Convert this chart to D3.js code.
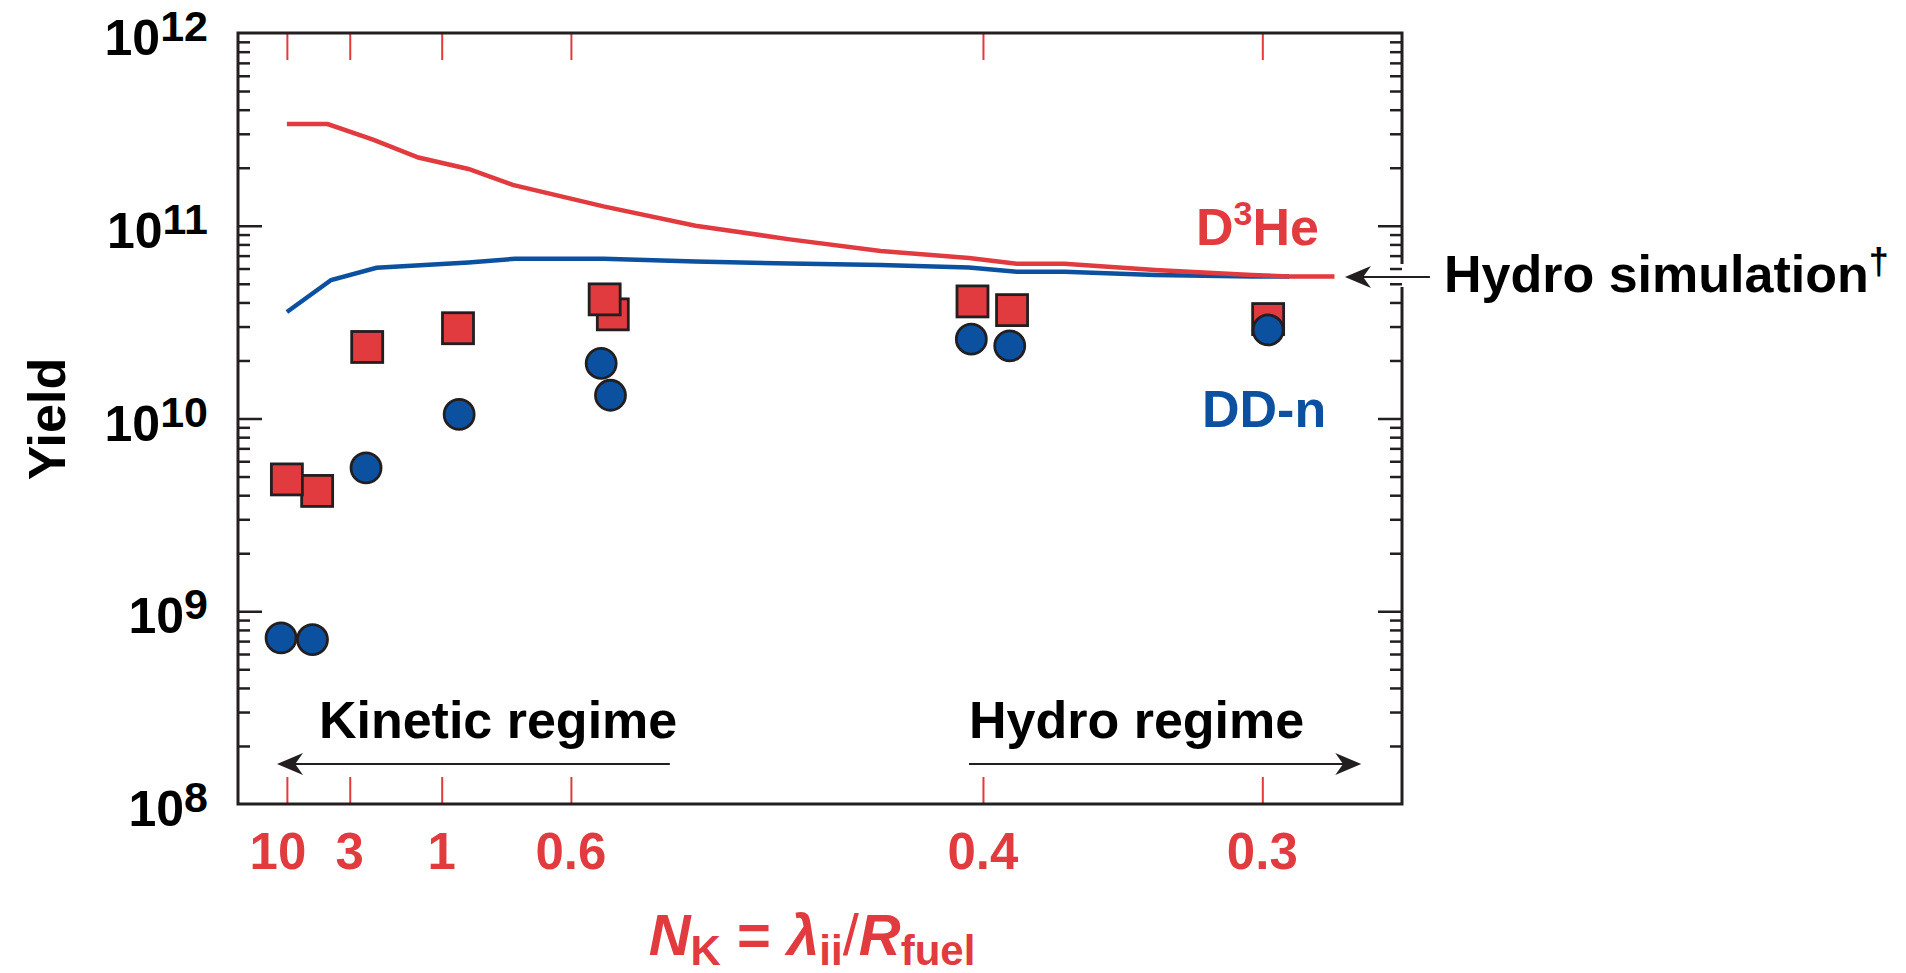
<!DOCTYPE html>
<html>
<head>
<meta charset="utf-8">
<script src="https://cdn.jsdelivr.net/npm/d3@7"></script>
<style>
  body { margin: 0; background: #fff; }
  text { font-family: "Liberation Sans", Arial, Helvetica, sans-serif; font-weight: bold; }
</style>
</head>
<body>
<script>

// position along the shot axis (arbitrary units, 0..100 across the frame)
const nkTickPos    = [4.2, 9.6, 17.5, 28.6, 64.0, 88.0];
const nkTickLabels = ["10", "3", "1", "0.6", "0.4", "0.3"];

// hydro simulation curves
const simD3HeX = [4.2, 7.7, 11.6, 15.5, 19.8, 23.6, 31.4, 39.3, 47.4, 55.2, 62.8, 66.9, 71.0, 78.8, 87.1, 90.3, 94.2];
const simD3He  = [3.37e11, 3.37e11, 2.8e11, 2.26e11, 1.97e11, 1.63e11, 1.26e11, 1.0e11, 8.5e10, 7.4e10, 6.8e10, 6.35e10, 6.35e10, 5.9e10, 5.55e10, 5.45e10, 5.45e10];
const simDDnX  = [4.2, 8.0, 11.9, 19.8, 23.8, 31.4, 39.3, 47.4, 55.2, 62.8, 66.9, 71.0, 78.8, 87.1, 90.3];
const simDDn   = [3.57e10, 5.23e10, 6.05e10, 6.45e10, 6.74e10, 6.74e10, 6.53e10, 6.37e10, 6.25e10, 6.08e10, 5.77e10, 5.77e10, 5.55e10, 5.45e10, 5.45e10];

// measured yields
const d3heX     = [4.2, 6.8, 11.1, 18.9, 31.5, 32.2, 63.1, 66.5, 88.5];
const d3heYield = [4.83e9, 4.21e9, 2.35e10, 2.94e10, 4.15e10, 3.47e10, 4.05e10, 3.65e10, 3.28e10];
const ddnX      = [3.7, 6.4, 11.0, 19.0, 31.2, 32.0, 63.0, 66.3, 88.5];
const ddnYield  = [7.27e8, 7.13e8, 5.54e9, 1.05e10, 1.93e10, 1.32e10, 2.58e10, 2.38e10, 2.88e10];

const yDecades = [8, 9, 10, 11, 12];

const red  = "#e13a3f";
const blue = "#0b51a0";
const ink  = "#231f20";

const margin = { left: 238, top: 33 };
const width  = 1164;
const height = 771;

const svg = d3.select("body").append("svg")
  .attr("width", 1906)
  .attr("height", 973);

const chart = svg.append("g")
  .attr("transform", `translate(${margin.left}, ${margin.top})`);

const x = d3.scaleLinear().domain([0, 100]).range([0, width]);
const y = d3.scaleLog().domain([1e8, 1e12]).range([height, 0]);

// minor / major log ticks
const majors = yDecades.slice(1, -1).map(e => Math.pow(10, e));
const minors = [];
for (let e = 8; e < 12; e++) for (let m = 2; m <= 9; m++) minors.push(m * Math.pow(10, e));

function yTicks(axisFn, vals, size, xoff) {
  const g = chart.append("g")
    .attr("transform", `translate(${xoff},0)`)
    .call(axisFn(y).tickValues(vals).tickSize(-size).tickSizeOuter(0).tickFormat(""));
  g.select(".domain").remove();
  g.selectAll("line").attr("stroke", ink).attr("stroke-width", 2.5);
}
yTicks(d3.axisLeft, minors, 12, 0);
yTicks(d3.axisLeft, majors, 24, 0);
yTicks(d3.axisRight, minors, 12, width);
yTicks(d3.axisRight, majors, 24, width);

// red N_K ticks, top and bottom
function xTicks(axisFn, yoff) {
  const g = chart.append("g")
    .attr("transform", `translate(0,${yoff})`)
    .call(axisFn(x).tickValues(nkTickPos).tickSize(-27).tickSizeOuter(0).tickFormat(""));
  g.select(".domain").remove();
  g.selectAll("line").attr("stroke", red).attr("stroke-width", 2);
}
xTicks(d3.axisBottom, height);
xTicks(d3.axisTop, 0);

// frame (right side broken where the annotation arrow passes)
const gapTop = 231, gapBot = 254;
const frame = chart.append("g").attr("stroke", ink).attr("stroke-width", 3).attr("fill", "none");
frame.append("path").attr("d", `M${width},${gapTop}V0H0V${height}H${width}V${gapBot}`);

// y tick labels
const yl = chart.append("g").selectAll("text").data(yDecades).join("text")
  .attr("x", -30)
  .attr("y", d => y(Math.pow(10, d)) + 22)
  .attr("text-anchor", "end")
  .attr("fill", "#000");
yl.append("tspan").attr("font-size", 50).text("10");
yl.append("tspan").attr("font-size", 43).attr("dy", -14).text(d => d);

// x tick labels
chart.append("g").selectAll("text").data(nkTickPos).join("text")
  .attr("x", d => x(d))
  .attr("dx", (d, i) => nkTickLabels[i] === "10" ? -9 : 0)
  .attr("y", height + 65)
  .attr("text-anchor", "middle")
  .attr("font-size", 51)
  .attr("fill", red)
  .text((d, i) => nkTickLabels[i]);

// simulation lines
const line = d3.line().x(d => x(d[0])).y(d => y(d[1]));
chart.append("path")
  .datum(d3.zip(simDDnX, simDDn))
  .attr("d", line).attr("fill", "none").attr("stroke", blue).attr("stroke-width", 4.5);
chart.append("path")
  .datum(d3.zip(simD3HeX, simD3He))
  .attr("d", line).attr("fill", "none").attr("stroke", red).attr("stroke-width", 4.5);

// measured points
const sq = 31;
chart.append("g").selectAll("rect")
  .data(d3.zip(d3heX, d3heYield).reverse())
  .join("rect")
  .attr("x", d => x(d[0]) - sq / 2)
  .attr("y", d => y(d[1]) - sq / 2)
  .attr("width", sq).attr("height", sq)
  .attr("fill", red).attr("stroke", ink).attr("stroke-width", 2.8);

chart.append("g").selectAll("circle")
  .data(d3.zip(ddnX, ddnYield))
  .join("circle")
  .attr("cx", d => x(d[0]))
  .attr("cy", d => y(d[1]))
  .attr("r", 15)
  .attr("fill", blue).attr("stroke", ink).attr("stroke-width", 2.8);

// arrows
function arrow(x1, x2, yy, w) {
  // tip at x2
  const dir = Math.sign(x2 - x1);
  const L = 26, H = 11;
  chart.append("line")
    .attr("x1", x1).attr("x2", x2 - dir * L * 0.6).attr("y1", yy).attr("y2", yy)
    .attr("stroke", ink).attr("stroke-width", w);
  chart.append("path")
    .attr("d", `M${x2},${yy}L${x2 - dir * L},${yy - H}L${x2 - dir * L * 0.7},${yy}L${x2 - dir * L},${yy + H}Z`)
    .attr("fill", ink);
}
arrow(x(37.1), x(3.35), height - 40, 2.2);
arrow(x(62.8), x(96.5), height - 40, 2.2);
arrow(x(102.4), x(95.1), 244, 2.2);

// regime labels
chart.append("text").attr("x", x(6.95)).attr("y", height - 66)
  .attr("font-size", 52).attr("fill", "#000").text("Kinetic regime");
chart.append("text").attr("x", x(62.8)).attr("y", height - 66)
  .attr("font-size", 52).attr("fill", "#000").text("Hydro regime");

// series labels
const d3he = chart.append("text").attr("x", 958).attr("y", 212).attr("fill", red);
d3he.append("tspan").attr("font-size", 52).text("D");
d3he.append("tspan").attr("font-size", 34).attr("dy", -20).text("3");
d3he.append("tspan").attr("font-size", 52).attr("dy", 20).text("He");

chart.append("text").attr("x", 964).attr("y", 394).attr("font-size", 52)
  .attr("fill", blue).text("DD-n");

// hydro simulation annotation
const hs = chart.append("text").attr("x", 1206).attr("y", 259).attr("fill", "#000");
hs.append("tspan").attr("font-size", 52).text("Hydro simulation");
hs.append("tspan").attr("font-size", 36).attr("dy", -18).text("\u2020");

// axis titles
svg.append("text")
  .attr("transform", "translate(65,419) rotate(-90)")
  .attr("text-anchor", "middle")
  .attr("font-size", 52)
  .attr("fill", "#000")
  .text("Yield");

const xt = svg.append("text").attr("x", 812).attr("y", 955)
  .attr("text-anchor", "middle").attr("fill", red);
xt.append("tspan").attr("font-size", 58).attr("font-style", "italic").text("N");
xt.append("tspan").attr("font-size", 42).attr("dy", 10).text("K");
xt.append("tspan").attr("font-size", 58).attr("dy", -10).text(" = ");
xt.append("tspan").attr("font-size", 58).attr("font-style", "italic").text("\u03bb");
xt.append("tspan").attr("font-size", 42).attr("dy", 10).text("ii");
xt.append("tspan").attr("font-size", 58).attr("dy", -10).attr("font-weight", "normal").text("/");
xt.append("tspan").attr("font-size", 58).attr("font-style", "italic").text("R");
xt.append("tspan").attr("font-size", 42).attr("dy", 10).text("fuel");

</script>
</body>
</html>
